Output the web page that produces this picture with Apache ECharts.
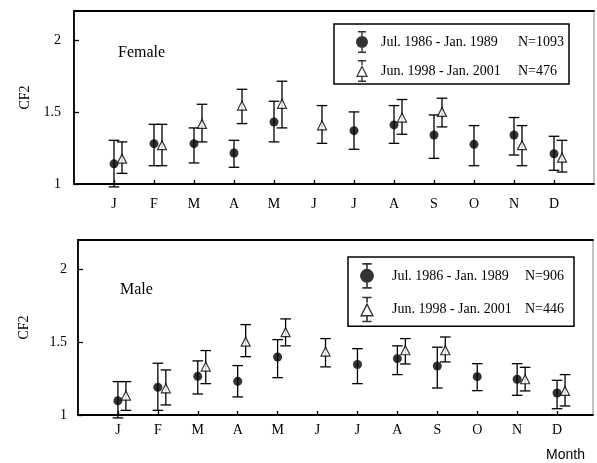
<!DOCTYPE html>
<html><head><meta charset="utf-8">
<script src="https://cdn.jsdelivr.net/npm/echarts@6/dist/echarts.min.js"></script>
<style>html,body{margin:0;padding:0;background:#fff}#c{width:597px;height:463px}</style>
</head><body><div id="c"></div>
<script>
// ---- data ----
const months = ['J','F','M','A','M','J','J','A','S','O','N','D'];
const periods = ['Jul. 1986 - Jan. 1989', 'Jun. 1998 - Jan. 2001'];
const femaleN = [1093, 476];
const maleN = [906, 446];
const yTicks = [1, 1.5, 2];
const monthTicks = [1,2,3,4,5,6,7,8,9,10,11,12];

const female86     = [1.14, 1.28, 1.28, 1.215, 1.43, null, 1.37, 1.41, 1.34, 1.275, 1.34, 1.21];
const female86Low  = [0.98, 1.127, 1.146, 1.116, 1.292, null, 1.241, 1.282, 1.178, 1.127, 1.201, 1.095];
const female86High = [1.303, 1.414, 1.389, 1.303, 1.574, null, 1.50, 1.544, 1.479, 1.405, 1.461, 1.331];
const female98     = [1.176, 1.269, 1.417, 1.544, 1.556, 1.407, null, 1.461, 1.50, null, 1.269, 1.183];
const female98Low  = [1.074, 1.127, 1.292, 1.419, 1.389, 1.282, null, 1.345, 1.396, null, 1.127, 1.083];
const female98High = [1.292, 1.414, 1.553, 1.657, 1.713, 1.544, null, 1.586, 1.595, null, 1.405, 1.303];

const male86     = [1.098, 1.19, 1.265, 1.231, 1.398, null, 1.346, 1.387, 1.336, 1.263, 1.245, 1.151];
const male86Low  = [0.98, 1.032, 1.144, 1.124, 1.256, null, 1.215, 1.277, 1.185, 1.167, 1.135, 1.043];
const male86High = [1.229, 1.355, 1.371, 1.339, 1.517, null, 1.455, 1.474, 1.465, 1.352, 1.352, 1.238];
const male98     = [1.133, 1.183, 1.332, 1.503, 1.568, 1.435, null, 1.444, 1.444, null, 1.245, 1.165];
const male98Low  = [1.032, 1.069, 1.215, 1.400, 1.474, 1.330, null, 1.350, 1.364, null, 1.165, 1.062];
const male98High = [1.229, 1.309, 1.442, 1.620, 1.659, 1.524, null, 1.524, 1.535, null, 1.327, 1.277];

// ---- helpers ----
const OFFSET98 = 0.2;
function pts(vals, off) {
  const out = [];
  vals.forEach((v, i) => { if (v != null) out.push([i + 1 + off, v]); });
  return out;
}
function errs(lows, highs, off) {
  const out = [];
  lows.forEach((lo, i) => { if (lo != null) out.push([i + 1 + off, lo, highs[i]]); });
  return out;
}
function renderErr(params, api) {
  const x = api.value(0);
  const lo = api.coord([x, api.value(1)]);
  const hi = api.coord([x, api.value(2)]);
  const hw = 5.3;
  const st = { stroke: '#000', lineWidth: 1.3 };
  return { type: 'group', children: [
    { type: 'line', shape: { x1: lo[0], y1: lo[1], x2: hi[0], y2: hi[1] }, style: st },
    { type: 'line', shape: { x1: lo[0] - hw, y1: lo[1], x2: lo[0] + hw, y2: lo[1] }, style: st },
    { type: 'line', shape: { x1: hi[0] - hw, y1: hi[1], x2: hi[0] + hw, y2: hi[1] }, style: st }
  ]};
}
const SERIF = 'Liberation Serif';
const iconCircle = 'path://M2 0h8v1.4h-8Z M5.3 1.4h1.4v3.6h-1.4Z M5.3 17h1.4v3.6h-1.4Z M2 20.6h8v1.4h-8Z M0 11A6 6 0 1 1 12 11A6 6 0 1 1 0 11Z';
const iconTri = 'path://M2 0h8v1.4h-8Z M5.3 1.4h1.4v3.6h-1.4Z M5.3 17h1.4v3.6h-1.4Z M2 20.6h8v1.4h-8Z M6 5L12 17L0 17Z M6 7.69L1.94 15.8L10.06 15.8Z';
const icons = [iconCircle, iconTri];

function xAxisFor(gi, max, margin) {
  return [{
    type: 'value', gridIndex: gi, min: 0, max: max,
    axisLine: { show: true, lineStyle: { color: '#000', width: 1.8 } },
    axisTick: { show: true, inside: true, length: 4, customValues: monthTicks, lineStyle: { color: '#000', width: 1.3 } },
    axisLabel: { customValues: monthTicks, margin: margin, formatter: v => months[Math.round(v) - 1] || '',
      fontFamily: SERIF, fontSize: 14, color: '#000' },
    splitLine: { show: false }
  }, {
    type: 'value', gridIndex: gi, position: 'top', min: 0, max: max,
    axisLine: { show: true, lineStyle: { color: '#000', width: 1.8 } },
    axisTick: { show: false }, axisLabel: { show: false }, splitLine: { show: false }
  }];
}
function yAxisFor(gi, margin, gap) {
  return {
    type: 'value', gridIndex: gi, min: 1, max: 2.2,
    name: 'CF2', nameLocation: 'middle', nameRotate: 90, nameGap: gap,
    nameTextStyle: { fontFamily: SERIF, fontSize: 14, color: '#000' },
    axisLine: { show: true, lineStyle: { color: '#000', width: 1.8 } },
    axisTick: { show: true, inside: true, length: 5, customValues: yTicks, lineStyle: { color: '#000', width: 1.3 } },
    axisLabel: { customValues: yTicks, margin: margin, formatter: v => String(v),
      fontFamily: SERIF, fontSize: 14, color: '#000' },
    splitLine: { show: false }
  };
}
function panelSeries(gi, v86, l86, h86, v98, l98, h98) {
  const xa = gi * 2, ya = gi;
  return [
    { type: 'custom', name: 'err86_' + gi, xAxisIndex: xa, yAxisIndex: ya, renderItem: renderErr,
      encode: { x: 0, y: [1, 2] }, data: errs(l86, h86, 0), z: 2, clip: false },
    { type: 'custom', name: 'err98_' + gi, xAxisIndex: xa, yAxisIndex: ya, renderItem: renderErr,
      encode: { x: 0, y: [1, 2] }, data: errs(l98, h98, OFFSET98), z: 2, clip: false },
    { type: 'scatter', name: periods[0], xAxisIndex: xa, yAxisIndex: ya, symbol: 'circle', symbolSize: 9,
      itemStyle: { color: '#000' }, data: pts(v86, 0), z: 3 },
    { type: 'scatter', name: periods[1], xAxisIndex: xa, yAxisIndex: ya, symbol: 'triangle', symbolSize: 9,
      itemStyle: { color: '#fff', borderColor: '#000', borderWidth: 1.2 }, data: pts(v98, OFFSET98), z: 3 }
  ];
}
function legendFor(nList, cfg) {
  return Object.assign({
    orient: 'vertical', selectedMode: false,
    borderColor: '#000', borderWidth: 1.5,
    itemStyle: { color: '#000', borderWidth: 0 },
    data: periods.map((p, i) => ({ name: p, icon: icons[i], itemStyle: { color: '#000', borderWidth: 0 } })),
    formatter: name => '{a|' + name + '}{b|N=' + nList[periods.indexOf(name)] + '}',
    textStyle: { fontFamily: SERIF, fontSize: 14, color: '#000' }
  }, cfg);
}

const chart = echarts.init(document.getElementById('c'), null, { renderer: 'canvas' });
chart.setOption({
  animation: false,
  backgroundColor: '#fff',
  grid: [
    { left: 74, right: 3, top: 11, bottom: 279, show: true, borderColor: '#888', borderWidth: 1 },
    { left: 78, right: 4, top: 240, bottom: 48, show: true, borderColor: '#888', borderWidth: 1 }
  ],
  xAxis: [...xAxisFor(0, 13, 13), ...xAxisFor(1, 12.9, 8)],
  yAxis: [yAxisFor(0, 13, 42), yAxisFor(1, 11, 47)],
  legend: [
    legendFor(femaleN, { left: 334, top: 24, padding: [7, 5, 2, 22], itemWidth: 12, itemHeight: 22, itemGap: 7,
      textStyle: { fontFamily: SERIF, fontSize: 14, color: '#000',
        rich: { a: { fontFamily: SERIF, fontSize: 14, width: 137, padding: [0, 0, 0, 8] },
                b: { fontFamily: SERIF, fontSize: 14, width: 45 } } } }),
    legendFor(maleN, { left: 348, top: 257, padding: [6, 10, 4, 12], itemWidth: 14, itemHeight: 26, itemGap: 8,
      textStyle: { fontFamily: SERIF, fontSize: 14, color: '#000',
        rich: { a: { fontFamily: SERIF, fontSize: 14, width: 133, padding: [0, 0, 0, 13] },
                b: { fontFamily: SERIF, fontSize: 14, width: 40 } } } })
  ],
  graphic: [
    { type: 'text', x: 118, y: 53, style: { text: 'Female', fontFamily: SERIF, fontSize: 16, fill: '#000', verticalAlign: 'middle' } },
    { type: 'text', x: 120, y: 290, style: { text: 'Male', fontFamily: SERIF, fontSize: 16, fill: '#000', verticalAlign: 'middle' } },
    { type: 'text', x: 585, y: 455, style: { text: 'Month', fontFamily: 'Liberation Sans', fontSize: 14, fill: '#000', align: 'right', verticalAlign: 'middle' } }
  ],
  series: [
    ...panelSeries(0, female86, female86Low, female86High, female98, female98Low, female98High),
    ...panelSeries(1, male86, male86Low, male86High, male98, male98Low, male98High)
  ]
});
</script>
</body></html>
